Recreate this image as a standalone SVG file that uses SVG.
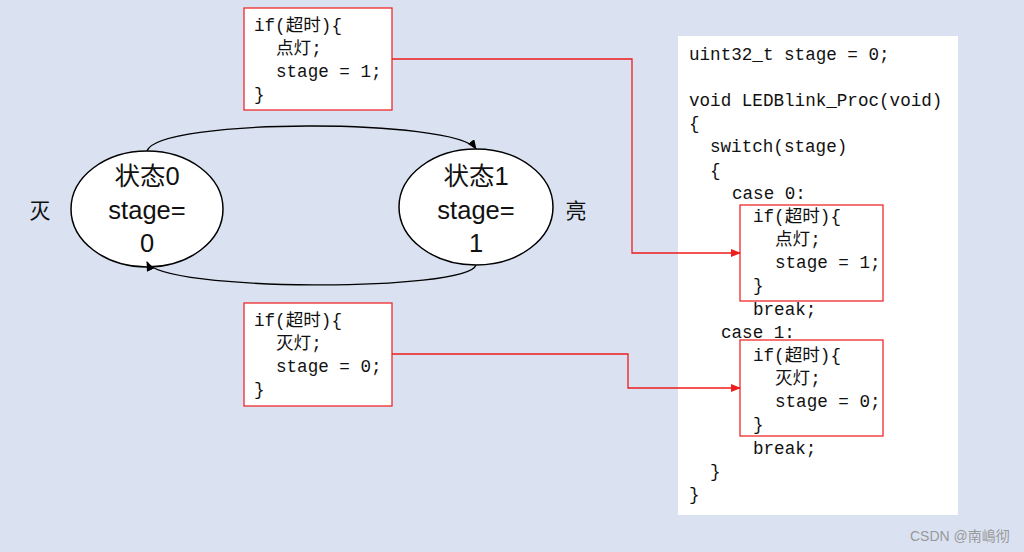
<svg xmlns="http://www.w3.org/2000/svg" width="1024" height="552" viewBox="0 0 1024 552">
<defs>
<style>
.code{font-family:"Liberation Mono","Noto Sans CJK SC",monospace;font-size:17.6px;fill:#111;}
.st{font-family:"Liberation Sans","Noto Sans CJK SC",sans-serif;font-size:25.5px;fill:#111;text-anchor:middle;}
.lbl{font-family:"Noto Sans CJK SC",sans-serif;font-size:21px;fill:#111;text-anchor:middle;}
.rbox{fill:#fff;stroke:#ee2a2a;stroke-width:1.3;}
.rline{fill:none;stroke:#ee1c1c;stroke-width:1.3;}
.bline{fill:none;stroke:#000;stroke-width:1.3;}
.ell{fill:#fff;stroke:#000;stroke-width:1.5;}
</style>
<marker id="ar" markerWidth="10" markerHeight="8" refX="9" refY="4" orient="auto" markerUnits="userSpaceOnUse"><path d="M0,0 L10,4 L0,8 z" fill="#ee1c1c"/></marker>
<marker id="ab" markerWidth="10" markerHeight="8" refX="9" refY="4" orient="auto" markerUnits="userSpaceOnUse"><path d="M0,0 L10,4 L0,8 z" fill="#000"/></marker>
</defs>
<rect width="1024" height="552" fill="#dae2f2"/>

<g id="code-panel">
<rect x="678" y="36" width="280" height="479" fill="#fff"/>
<text class="code" x="689" y="60">uint32_t stage = 0;</text>
<text class="code" x="689" y="106">void LEDBlink_Proc(void)</text>
<text class="code" x="689" y="129">{</text>
<text class="code" x="710" y="152">switch(stage)</text>
<text class="code" x="710" y="176">{</text>
<text class="code" x="732" y="199">case 0:</text>
<text class="code" x="753" y="315">break;</text>
<text class="code" x="721" y="338">case 1:</text>
<text class="code" x="753" y="454">break;</text>
<text class="code" x="710" y="477">}</text>
<text class="code" x="689" y="500">}</text>
</g>

<g id="case0-box">
<rect class="rbox" x="740" y="205" width="143" height="96"/>
<text class="code" x="753" y="222">if(超时){</text>
<text class="code" x="775" y="245">点灯;</text>
<text class="code" x="775" y="268">stage = 1;</text>
<text class="code" x="753" y="291">}</text>
</g>

<g id="case1-box">
<rect class="rbox" x="740" y="340" width="143" height="96"/>
<text class="code" x="753" y="361">if(超时){</text>
<text class="code" x="775" y="384">灭灯;</text>
<text class="code" x="775" y="407">stage = 0;</text>
<text class="code" x="753" y="430">}</text>
</g>

<g id="top-box">
<rect class="rbox" x="244" y="8" width="148" height="102"/>
<text class="code" x="254" y="31">if(超时){</text>
<text class="code" x="276" y="54">点灯;</text>
<text class="code" x="276" y="77">stage = 1;</text>
<text class="code" x="254" y="100">}</text>
</g>

<g id="bottom-box">
<rect class="rbox" x="244" y="303" width="148" height="103"/>
<text class="code" x="254" y="326">if(超时){</text>
<text class="code" x="276" y="349">灭灯;</text>
<text class="code" x="276" y="372">stage = 0;</text>
<text class="code" x="254" y="395">}</text>
</g>

<g id="state0">
<ellipse class="ell" cx="147" cy="209" rx="76" ry="58"/>
<text class="st" x="147" y="185">状态0</text>
<text class="st" x="147" y="219">stage=</text>
<text class="st" x="147" y="252">0</text>
</g>

<g id="state1">
<ellipse class="ell" cx="476" cy="207" rx="77" ry="58"/>
<text class="st" x="476" y="185">状态1</text>
<text class="st" x="476" y="219">stage=</text>
<text class="st" x="476" y="252">1</text>
</g>

<g id="labels">
<text class="lbl" x="40" y="218">灭</text>
<text class="lbl" x="576" y="218">亮</text>
</g>

<g id="connectors">
<path class="bline" d="M147,151 C158,118 455,118 476,149" marker-end="url(#ab)"/>
<path class="bline" d="M476,265 C468,292 160,292 147,262" marker-end="url(#ab)"/>
<path class="rline" d="M392,59 H632 V253 H740" marker-end="url(#ar)"/>
<path class="rline" d="M392,354 H628 V388 H740" marker-end="url(#ar)"/>
</g>

<text x="910" y="541" font-family="Liberation Sans,Noto Sans CJK SC,sans-serif" font-size="14" fill="#999">CSDN @南嶋彻</text>
</svg>
